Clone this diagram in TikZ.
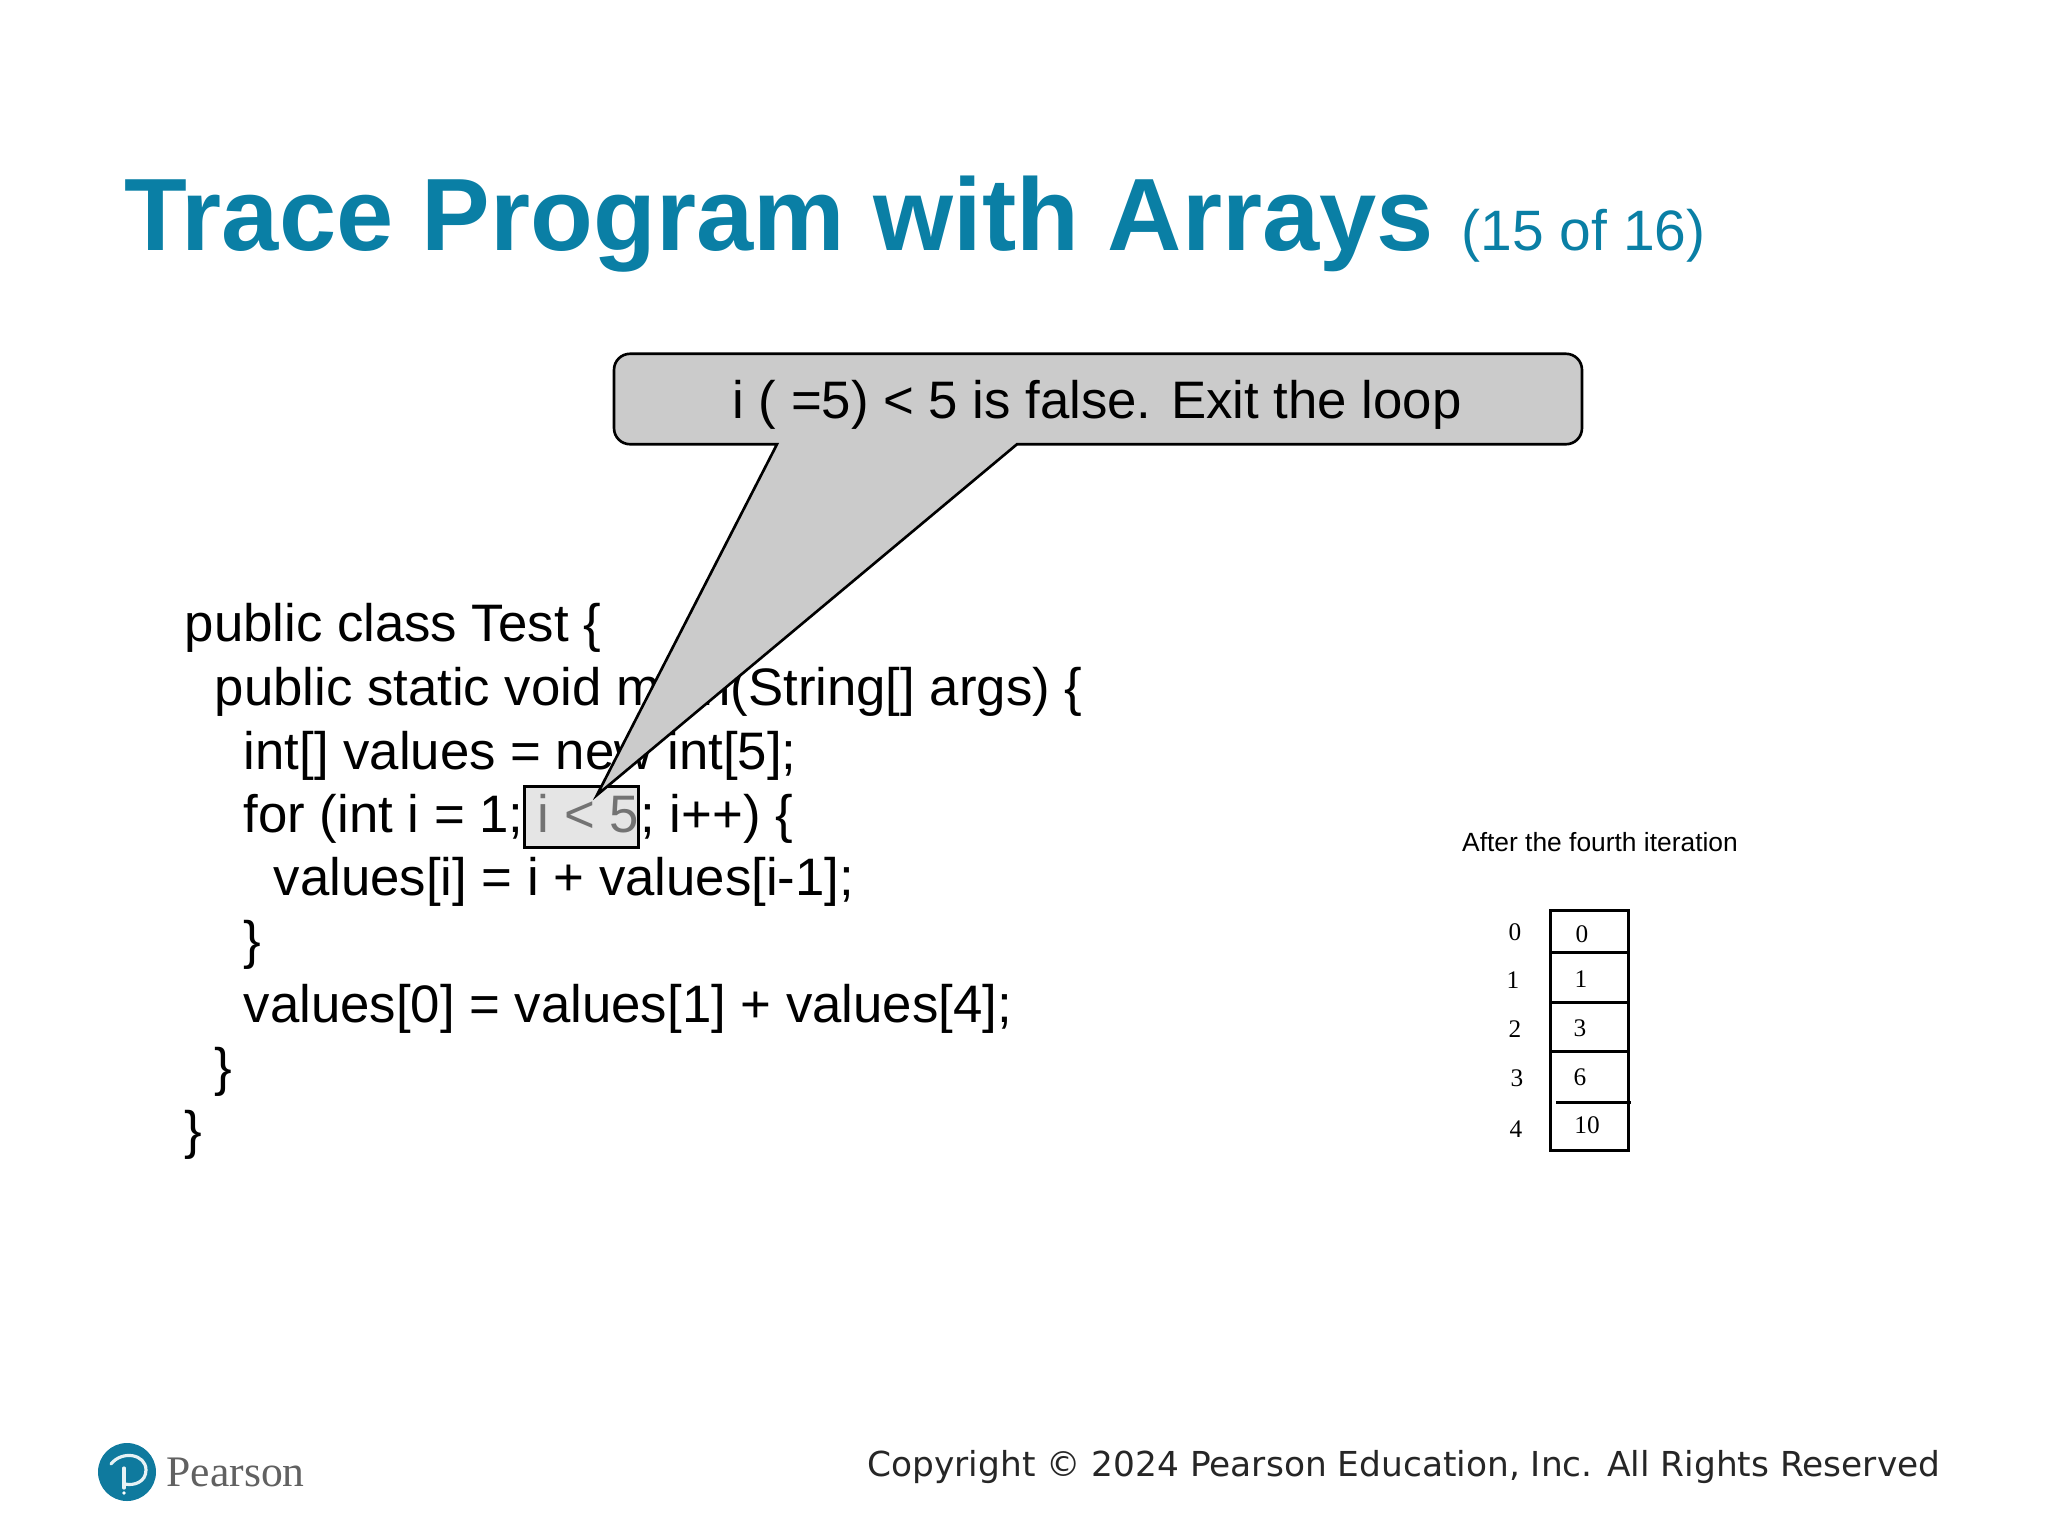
\documentclass[tikz,border=0pt]{standalone}
\usepackage{fontspec}
\setmainfont{Liberation Sans}
\newfontfamily\serifcell{Liberation Serif}
\newfontfamily\copyfont{DejaVu Sans}
\usetikzlibrary{calc}
\definecolor{teal}{HTML}{0A7FA5}
\definecolor{bubblegray}{HTML}{CBCBCB}
\definecolor{logoblue}{HTML}{0F7A9E}
\tikzset{
  codeline/.style={anchor=base west,inner sep=0pt,font=\fontsize{15}{18}\selectfont},
  cellnum/.style={inner sep=0pt,font=\serifcell\fontsize{7.2}{9}\selectfont},
  bubbleline/.style={draw=black,line width=0.75pt,fill=bubblegray},
  cellline/.style={draw=black,line width=0.85pt}
}

\begin{document}
\begin{tikzpicture}[x=0.01cm,y=-0.01cm]
  \useasboundingbox (0,0) rectangle (2048,1536);
  % title
  \node [anchor=base west,inner sep=0pt,text=teal,font=\bfseries\fontsize{29.25}{34}\selectfont] (title) at (124,250) {Trace Program with Arrays};
  \node [anchor=base west,inner sep=0pt,text=teal,font=\fontsize{16.2}{20}\selectfont] (part) at (1461,250) {(15 of 16)};
  % code
  \node [codeline] (l1) at (184,641) {public class Test \{};
  \node [codeline] (l2) at (214,705) {public static void main(String[] args) \{};
  \node [codeline] (l3) at (243,769) {int[] values = new int[5];};
  \node [codeline] (l4) at (243,832) {for (int i = 1;};
  \node [codeline] (l5) at (273,895) {values[i] = i + values[i-1];};
  \node [codeline] (l6) at (243,958) {\}};
  \node [codeline] (l7) at (243,1022) {values[0] = values[1] + values[4];};
  \node [codeline] (l8) at (214,1085) {\}};
  \node [codeline] (l9) at (184,1148) {\}};
  \node [codeline] (l4b) at (640,832) {; i++) \{};
  % highlighted condition
  \draw [line width=0.85pt,fill=black!10] (524,786) rectangle (638,847);
  \node [codeline,text=black!55] (cond) at (537,832) {i < 5};
  % callout
  \node [inner sep=0pt,minimum width=9.66cm,minimum height=0.89cm] (bubble) at (1098,399) {};
  \coordinate (tip) at (597,795);
  \coordinate (baseR) at (1017,0 |- bubble.south);
  \coordinate (baseL) at (777,0 |- bubble.south);
  \draw [bubbleline,rounded corners=0.16cm]
    (bubble.north west) -- (bubble.north east) -- (bubble.south east)
    [sharp corners] -- (baseR) -- (tip) -- (baseL)
    [rounded corners=0.16cm] -- (bubble.south west) -- cycle;
  \node [inner sep=0pt,font=\fontsize{15}{18}\selectfont] (msg) at (1097,405) {i ( =5) < 5 is false. Exit the loop};
  % array
  \node [inner sep=0pt,font=\fontsize{7.5}{9}\selectfont] (caption) at (1600,842) {After the fourth iteration};
  \draw [cellline] (1550,910) rectangle (1628,1150);
  \foreach\Y in {952,1002,1051} \draw [cellline] (1550,\Y) -- (1628,\Y);
  \draw [cellline] (1556,1102) -- (1631,1102);
  \foreach\N/\X/\Y in {0/1515/932,1/1513/980,2/1515/1029,3/1517/1078,4/1516/1129}
    \node [cellnum] (idx\N) at (\X,\Y) {\N};
  \foreach\V/\X/\Y in {0/1582/934,1/1581/979,3/1580/1028,6/1580/1077,10/1587/1125}
    \node [cellnum] (val\V) at (\X,\Y) {\V};
  % logo and copyright
  \fill [logoblue] (127,1472) circle (29);
  \draw [white!90!logoblue,line width=0.9pt,line cap=round] (111,1464) .. controls (122,1450) and (146,1454) .. (146,1470) .. controls (146,1482) and (134,1486) .. (125,1484);
  \draw [white!90!logoblue,line width=0.9pt,line cap=round] (124,1468) -- (124,1488);
  \fill [white] (124,1493) circle (1.8);
  \node [anchor=base west,inner sep=0pt,text=black!62,font=\serifcell\fontsize{12.4}{15}\selectfont] (logotext) at (166,1486) {Pearson};
  \node [anchor=base east,inner sep=0pt,text=black!85,font=\copyfont\fontsize{9.78}{12}\selectfont] (copy) at (1941,1476) {Copyright © 2024 Pearson Education, Inc. All Rights Reserved};
\end{tikzpicture}
\end{document}
